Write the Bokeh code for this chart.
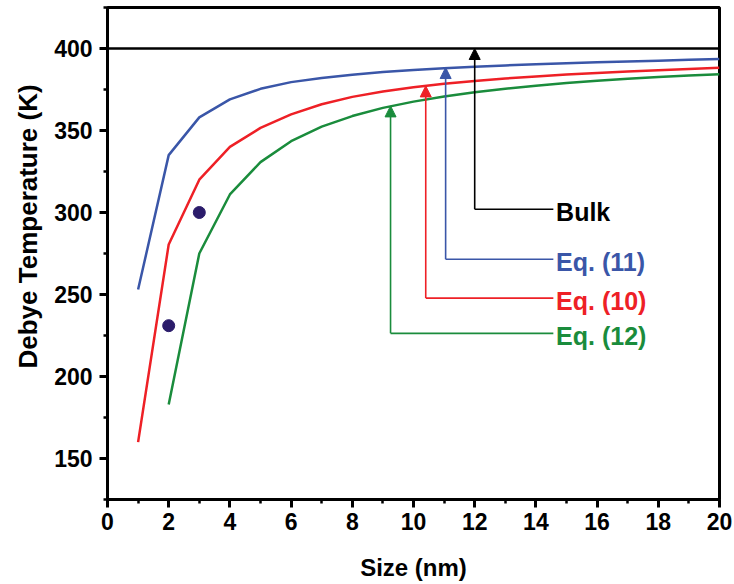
from bokeh.plotting import figure
from bokeh.models import Arrow, NormalHead, FixedTicker, Range1d, Title
from bokeh.core.properties import value
from bokeh.embed import file_html
from bokeh.resources import INLINE

# ---- data ----
size_nm = [1, 2, 3, 4, 5, 6, 7, 8, 9, 10, 11, 12, 13, 14, 15, 16, 17, 18, 19, 20]
eq11 = [253, 335, 358, 369, 375.4, 379.5, 382, 384, 385.6, 386.9, 388, 388.9, 389.7,
        390.4, 391, 391.6, 392.1, 392.6, 393.1, 393.6]
eq10 = [160, 280.5, 320, 340, 351.6, 359.8, 366, 370.5, 373.8, 376.4, 378.5, 380.2,
        381.7, 383, 384.1, 385.1, 386, 386.8, 387.5, 388.2]
size_eq12 = [2, 3, 4, 5, 6, 7, 8, 9, 10, 11, 12, 13, 14, 15, 16, 17, 18, 19, 20]
eq12 = [183, 275, 311, 330.7, 343.5, 352.4, 358.8, 363.8, 367.6, 370.7, 373.3, 375.5,
        377.3, 378.9, 380.3, 381.5, 382.6, 383.5, 384.3]
exp_size = [2, 3]
exp_temp = [231, 300]
bulk_temp = 400

labels = ["Bulk", "Eq. (11)", "Eq. (10)", "Eq. (12)"]
colors = ["#000000", "#3A56A8", "#EE2026", "#1A8C3C"]
arrow_x = [12.0, 11.05, 10.4, 9.25]
arrow_top = [400, 388.4, 377.2, 365.0]
arrow_bottom = [302, 271.5, 247.8, 226.3]
label_line_end = 14.57
label_x = 14.66

x_ticks = [0, 2, 4, 6, 8, 10, 12, 14, 16, 18, 20]
y_ticks = [150, 200, 250, 300, 350, 400]

FONT = "Liberation Sans"

p = figure(width=734, height=584, output_backend="svg", toolbar_location=None,
           x_range=Range1d(0, 20), y_range=Range1d(125, 425),
           min_border_left=107, min_border_right=15, min_border_top=7, min_border_bottom=85)
p.grid.visible = False
p.outline_line_color = "black"
p.outline_line_width = 3
p.background_fill_color = "white"

for ax in (p.xaxis[0], p.yaxis[0]):
    ax.axis_line_width = 3
    ax.major_tick_line_width = 3
    ax.minor_tick_line_width = 2.5
    ax.major_tick_out = 8
    ax.major_tick_in = 0
    ax.minor_tick_out = 4
    ax.minor_tick_in = 0
    ax.major_label_text_font = FONT
    ax.major_label_text_font_style = "bold"
    ax.major_label_text_font_size = "23px"
    ax.major_label_text_color = "black"
    ax.axis_label_text_font = FONT
    ax.axis_label_text_font_style = "bold"
    ax.axis_label_text_font_size = "24px"
    ax.axis_label_text_color = "black"

p.xaxis.ticker = FixedTicker(ticks=x_ticks, minor_ticks=list(range(0, 21)))
p.yaxis.ticker = FixedTicker(ticks=y_ticks, minor_ticks=list(range(125, 426, 25)))
p.xaxis.axis_label = "Size (nm)"
p.xaxis.major_label_standoff = 5
p.yaxis.major_label_standoff = 7
p.xaxis.axis_label_standoff = 21

ylab = Title(text="Debye Temperature (K)", text_font=FONT, text_font_style="bold",
             text_font_size="26px", text_color="black", align="left", offset=131,
             standoff=18)
p.add_layout(ylab, "left")

# bulk line
p.segment(x0=[0], x1=[20], y0=[bulk_temp], y1=[bulk_temp], line_color="black", line_width=2.5)

p.line(size_nm, eq11, line_color=colors[1], line_width=2.5)
p.line(size_nm, eq10, line_color=colors[2], line_width=2.5)
p.line(size_eq12, eq12, line_color=colors[3], line_width=2.5)
p.scatter(exp_size, exp_temp, size=12, fill_color="#2B1C6B", line_color="#2B1C6B")

for lab, c, ax_, at, ab in zip(labels, colors, arrow_x, arrow_top, arrow_bottom):
    p.add_layout(Arrow(end=NormalHead(size=11, fill_color=c, line_color=c, line_width=1),
                       x_start=ax_, y_start=ab, x_end=ax_, y_end=at,
                       line_color=c, line_width=1.6))
    p.segment(x0=[ax_], x1=[label_line_end], y0=[ab], y1=[ab], line_color=c, line_width=1.6)
    p.text(x=[label_x], y=[ab], text=[lab], text_color=c, text_font=value(FONT),
           text_font_style="bold", text_font_size="25px", text_baseline="middle",
           text_align="left", y_offset=3)

open("out.html", "w").write(file_html(p, INLINE))
